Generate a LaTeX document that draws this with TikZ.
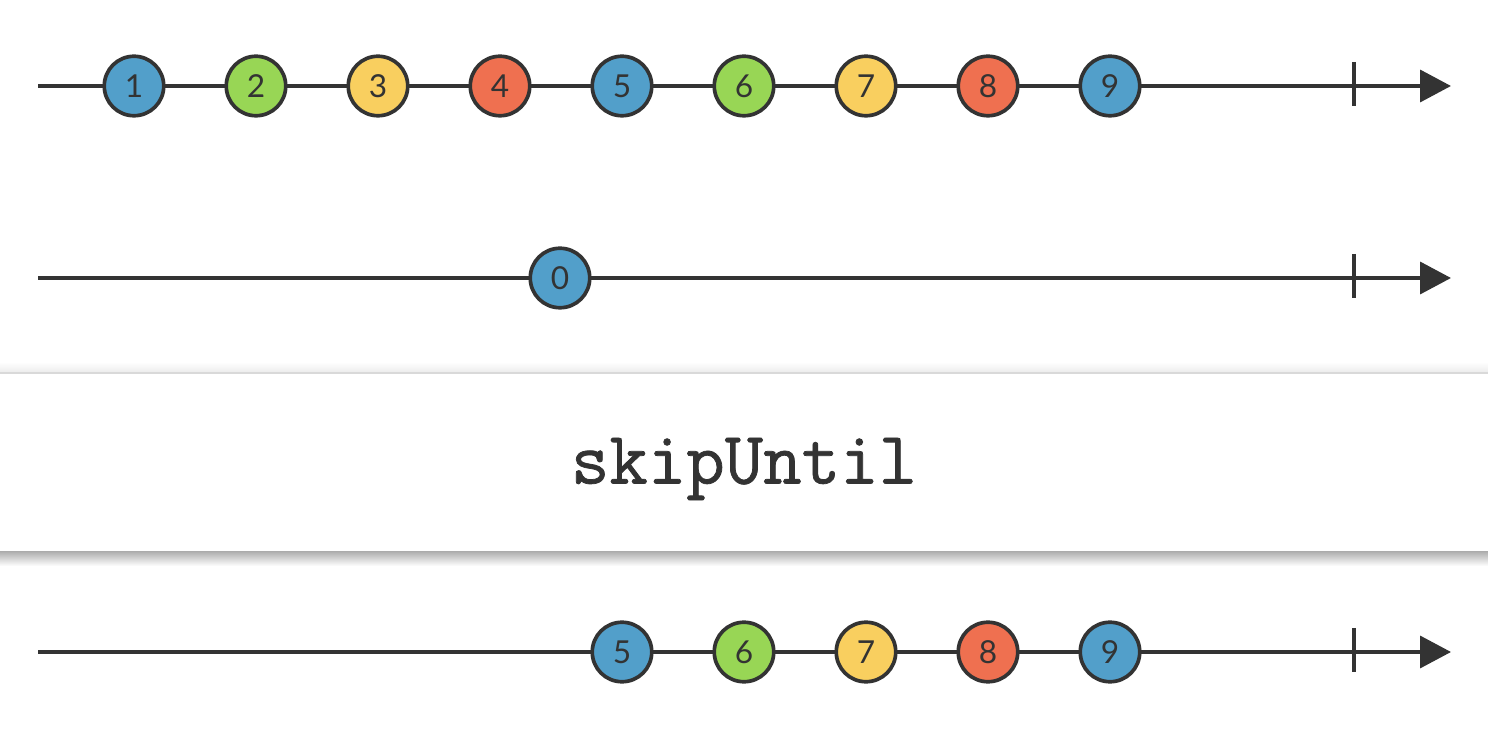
\documentclass[tikz,border=0pt]{standalone}
\usepackage{fontspec}
\setmainfont{Lato}
\newfontfamily\opfont[FakeBold=1]{Latin Modern Mono}
\usetikzlibrary{arrows.meta}
\definecolor{ink}{HTML}{333333}
\definecolor{mblue}{HTML}{529FCA}
\definecolor{mgreen}{HTML}{98D655}
\definecolor{myellow}{HTML}{F9CF5F}
\definecolor{mred}{HTML}{EF7050}
\tikzset{
  marble/.style={circle, draw=ink, line width=2.1pt, minimum size=1.19cm, inner sep=0pt,
    font=\fontsize{18}{18}\selectfont, text=ink},
  timeline/.style={draw=ink, line width=2.1pt, -{Triangle[length=0.62cm,width=0.64cm]}},
  endtick/.style={draw=ink, line width=2.1pt},
}
\begin{document}
\begin{tikzpicture}[x=0.02cm,y=-0.02cm]
\useasboundingbox (0,0) rectangle (1488,742);
% operator box with shadow
\shade[top color=black!35, bottom color=white] (0,550) rectangle (1488,566);
\shade[top color=white, bottom color=black!8] (0,362) rectangle (1488,373);
\fill[white] (0,373) rectangle (1488,551);
\draw[black!15, line width=1.2pt] (0,373) -- (1488,373);
\node[font=\opfont\fontsize{42.5}{42.5}\selectfont, text=ink] (op) at (744,469) {skipUntil};

% timeline 1
\coordinate (s1) at (38,86); \coordinate (e1) at (1451,86);
\draw[timeline] (s1) -- (e1);
\coordinate (t1a) at (1354,62); \coordinate (t1b) at (1354,106);
\draw[endtick] (t1a) -- (t1b);
\node[marble, fill=mblue] (a1) at (134,86) {1};
\node[marble, fill=mgreen] (a2) at (256,86) {2};
\node[marble, fill=myellow] (a3) at (378,86) {3};
\node[marble, fill=mred] (a4) at (500,86) {4};
\node[marble, fill=mblue] (a5) at (622,86) {5};
\node[marble, fill=mgreen] (a6) at (744,86) {6};
\node[marble, fill=myellow] (a7) at (866,86) {7};
\node[marble, fill=mred] (a8) at (988,86) {8};
\node[marble, fill=mblue] (a9) at (1110,86) {9};

% timeline 2
\coordinate (s2) at (38,278); \coordinate (e2) at (1451,278);
\draw[timeline] (s2) -- (e2);
\coordinate (t2a) at (1354,254); \coordinate (t2b) at (1354,298);
\draw[endtick] (t2a) -- (t2b);
\node[marble, fill=mblue] (b0) at (560,278) {0};

% timeline 3
\coordinate (s3) at (38,652); \coordinate (e3) at (1451,652);
\draw[timeline] (s3) -- (e3);
\coordinate (t3a) at (1354,628); \coordinate (t3b) at (1354,672);
\draw[endtick] (t3a) -- (t3b);
\node[marble, fill=mblue] (c5) at (622,652) {5};
\node[marble, fill=mgreen] (c6) at (744,652) {6};
\node[marble, fill=myellow] (c7) at (866,652) {7};
\node[marble, fill=mred] (c8) at (988,652) {8};
\node[marble, fill=mblue] (c9) at (1110,652) {9};
\end{tikzpicture}
\end{document}
